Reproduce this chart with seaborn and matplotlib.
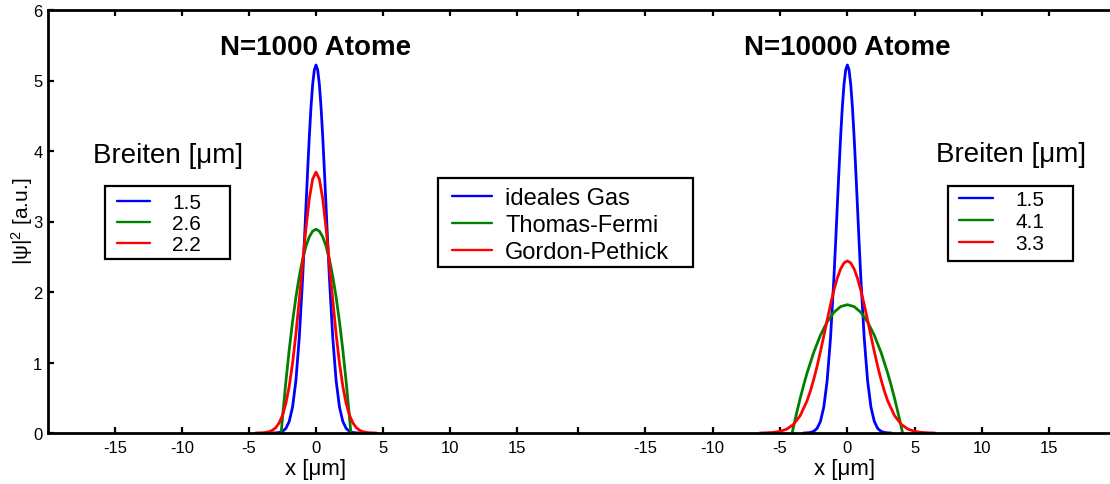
import matplotlib
matplotlib.use("Agg")
import matplotlib.pyplot as plt
import seaborn as sns
import numpy as np
import pandas as pd
from matplotlib.lines import Line2D
from matplotlib.patches import Rectangle

# ---------------- data ----------------
panel_titles = ["N=1000 Atome", "N=10000 Atome"]
series_names = ["ideales Gas", "Thomas-Fermi", "Gordon-Pethick"]
widths_1000 = ["1.5", "2.6", "2.2"]
widths_10000 = ["1.5", "4.1", "3.3"]
xticks_vals = [-15, -10, -5, 0, 5, 10, 15]
yticks_vals = [0, 1, 2, 3, 4, 5, 6]

# ideal gas (same in both panels)
ideal_x = [-3.25, -3.0, -2.75, -2.5, -2.25, -2.0, -1.75, -1.5, -1.25, -1.0,
           -0.875, -0.75, -0.625, -0.5, -0.375, -0.25, -0.125, 0.0,
           0.125, 0.25, 0.375, 0.5, 0.625, 0.75, 0.875, 1.0,
           1.25, 1.5, 1.75, 2.0, 2.25, 2.5, 2.75, 3.0, 3.25]
ideal_y = [0.0, 0.002, 0.0075, 0.023, 0.065, 0.164, 0.368, 0.744, 1.350, 2.197,
           2.690, 3.208, 3.722, 4.204, 4.622, 4.945, 5.150, 5.22,
           5.150, 4.945, 4.622, 4.204, 3.722, 3.208, 2.690, 2.197,
           1.350, 0.744, 0.368, 0.164, 0.065, 0.023, 0.0075, 0.002, 0.0]

# Thomas-Fermi, N=1000
tf1000_x = [-2.6, -2.5, -2.25, -2.0, -1.75, -1.5, -1.25, -1.0, -0.75, -0.5, -0.25, 0.0,
            0.25, 0.5, 0.75, 1.0, 1.25, 1.5, 1.75, 2.0, 2.25, 2.5, 2.6]
tf1000_y = [0.0, 0.218, 0.726, 1.180, 1.581, 1.928, 2.222, 2.463, 2.650, 2.783, 2.863, 2.89,
            2.863, 2.783, 2.650, 2.463, 2.222, 1.928, 1.581, 1.180, 0.726, 0.218, 0.0]

# Gordon-Pethick, N=1000
gp1000_x = [-4.5, -4.25, -4.0, -3.75, -3.5, -3.25, -3.0, -2.75, -2.5, -2.25, -2.0, -1.75,
            -1.5, -1.25, -1.0, -0.75, -0.5, -0.25, 0.0, 0.25, 0.5, 0.75, 1.0, 1.25, 1.5,
            1.75, 2.0, 2.25, 2.5, 2.75, 3.0, 3.25, 3.5, 3.75, 4.0, 4.25, 4.5]
gp1000_y = [0.0, 0.0016, 0.0038, 0.0087, 0.019, 0.039, 0.077, 0.143, 0.251, 0.419, 0.662, 0.991,
            1.405, 1.889, 2.406, 2.905, 3.323, 3.602, 3.70, 3.602, 3.323, 2.905, 2.406, 1.889, 1.405,
            0.991, 0.662, 0.419, 0.251, 0.143, 0.077, 0.039, 0.019, 0.0087, 0.0038, 0.0016, 0.0]

# Thomas-Fermi, N=10000
tf10000_x = [-4.1, -4.0, -3.75, -3.5, -3.25, -3.0, -2.5, -2.0, -1.5, -1.0, -0.5, 0.0,
             0.5, 1.0, 1.5, 2.0, 2.5, 3.0, 3.25, 3.5, 3.75, 4.0, 4.1]
tf10000_y = [0.0, 0.088, 0.297, 0.494, 0.676, 0.846, 1.143, 1.387, 1.576, 1.712, 1.793, 1.82,
             1.793, 1.712, 1.576, 1.387, 1.143, 0.846, 0.676, 0.494, 0.297, 0.088, 0.0]

# Gordon-Pethick, N=10000
gp10000_x = [-6.5, -6.0, -5.5, -5.0, -4.5, -4.0, -3.5, -3.0, -2.75, -2.5, -2.25, -2.0, -1.75,
             -1.5, -1.25, -1.0, -0.75, -0.5, -0.25, 0.0, 0.25, 0.5, 0.75, 1.0, 1.25, 1.5,
             1.75, 2.0, 2.25, 2.5, 2.75, 3.0, 3.5, 4.0, 4.5, 5.0, 5.5, 6.0, 6.5]
gp10000_y = [0.0, 0.003, 0.0085, 0.023, 0.055, 0.122, 0.247, 0.453, 0.593, 0.758, 0.946, 1.155, 1.376,
             1.602, 1.822, 2.024, 2.196, 2.328, 2.412, 2.44, 2.412, 2.328, 2.196, 2.024, 1.822, 1.602,
             1.376, 1.155, 0.946, 0.758, 0.593, 0.453, 0.247, 0.122, 0.055, 0.023, 0.0085, 0.003, 0.0]

colors = ["#0000ff", "#008000", "#ff0000"]

# ---------------- style ----------------
sns.set_theme(style="white")
plt.rcParams["font.family"] = ["Liberation Sans", "DejaVu Sans"]
plt.rcParams["mathtext.fontset"] = "custom"
plt.rcParams["mathtext.rm"] = "Liberation Sans"
plt.rcParams["mathtext.it"] = "Liberation Sans"
plt.rcParams["text.color"] = "black"
plt.rcParams["axes.edgecolor"] = "black"
plt.rcParams["xtick.color"] = "black"
plt.rcParams["ytick.color"] = "black"
plt.rcParams["axes.labelcolor"] = "black"

W, H = 1110, 485
fig = plt.figure(figsize=(W / 100, H / 100), dpi=100)


def fx(px):
    return px / W


def fy(py):
    return 1 - py / H


ax_bottom, ax_top = 434, 11
axL = fig.add_axes([fx(48), fy(ax_bottom), fx(578) - fx(48), fy(ax_top) - fy(ax_bottom)])
axR = fig.add_axes([fx(578), fy(ax_bottom), 1 - fx(578), fy(ax_top) - fy(ax_bottom)])

panels = [
    (axL, [(ideal_x, ideal_y), (tf1000_x, tf1000_y), (gp1000_x, gp1000_y)]),
    (axR, [(ideal_x, ideal_y), (tf10000_x, tf10000_y), (gp10000_x, gp10000_y)]),
]
for ax, series in panels:
    for (xs, ys), c in zip(series, colors):
        sns.lineplot(x=xs, y=ys, ax=ax, color=c, linewidth=2.0, sort=False,
                     estimator=None, legend=False)

for ax in (axL, axR):
    ax.set_ylim(0, 6)
    ax.set_facecolor("none")
    for s in ("top", "bottom", "left", "right"):
        ax.spines[s].set_linewidth(2.0)
        ax.spines[s].set_color("black")
    ax.spines["right"].set_visible(False)
    ax.tick_params(axis="x", direction="in", top=True, bottom=True, length=4, width=1.6,
                   labelsize=12, pad=5)
    ax.set_xlabel("")
    ax.set_ylabel("")

axL.set_xlim(-20, 19.55)
axR.set_xlim(-20, 19.5)
axL.set_xticks(xticks_vals)
axL.set_xticklabels([str(v) for v in xticks_vals])
axR.set_xticks([-20] + xticks_vals)
axR.set_xticklabels([""] + [str(v) for v in xticks_vals])

axL.set_yticks(yticks_vals)
axL.set_yticklabels([str(v) for v in yticks_vals])
axL.tick_params(axis="y", direction="in", left=True, right=False, length=4, width=1.6,
                labelsize=12, pad=4)
axR.set_yticks([])
axR.spines["left"].set_visible(False)

# titles
axL.text(0, 5.38, panel_titles[0], ha="center", va="baseline", fontsize=20, fontweight="bold")
axR.text(0, 5.38, panel_titles[1], ha="center", va="baseline", fontsize=20, fontweight="bold")

# axis labels
fig.text(fx(316), fy(475), "x [μm]", ha="center", va="baseline", fontsize=16)
fig.text(fx(845), fy(475), "x [μm]", ha="center", va="baseline", fontsize=16)
fig.text(fx(22), fy(221), r"|ψ|$^{\mathrm{2}}$ [a.u.]", ha="center", va="center", rotation=90,
         fontsize=15)

# "Breiten" headings
fig.text(fx(168), fy(163), "Breiten [μm]", ha="center", va="baseline", fontsize=20)
fig.text(fx(1011), fy(162), "Breiten [μm]", ha="center", va="baseline", fontsize=20)

handles = [Line2D([0], [0], color=c, lw=1.7) for c in colors]

legL = fig.legend(handles, widths_1000, loc="upper left", bbox_to_anchor=(fx(117), fy(194)),
                  frameon=False, fontsize=15, handlelength=1.6, handletextpad=1.05,
                  labelspacing=0.1, borderpad=0, borderaxespad=0)
legR = fig.legend(handles, widths_10000, loc="upper left", bbox_to_anchor=(fx(959), fy(191)),
                  frameon=False, fontsize=15, handlelength=1.65, handletextpad=1.05,
                  labelspacing=0.15, borderpad=0, borderaxespad=0)
legM = fig.legend(handles, series_names, loc="upper left", bbox_to_anchor=(fx(452), fy(188)),
                  frameon=False, fontsize=17, handlelength=1.7, handletextpad=0.55,
                  labelspacing=0.22, borderpad=0, borderaxespad=0)

# legend frames
for (x0, y0, x1, y1) in [(105, 187, 230, 260), (948, 187, 1073, 262), (438, 179, 693, 268)]:
    fig.add_artist(Rectangle((fx(x0), fy(y1)), fx(x1) - fx(x0), fy(y0) - fy(y1),
                             transform=fig.transFigure, fill=False, lw=1.6, ec="black"))

fig.savefig("out.png", dpi=100)
